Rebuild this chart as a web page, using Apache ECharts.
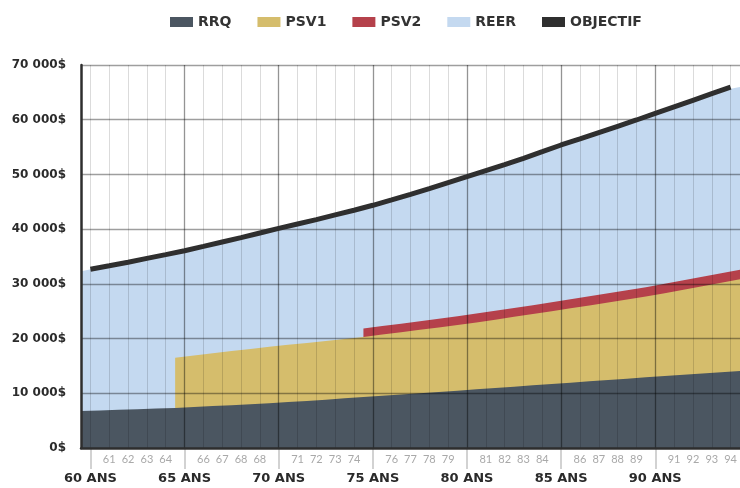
<!DOCTYPE html>
<html>
<head>
<meta charset="utf-8">
<script src="https://cdn.jsdelivr.net/npm/echarts@6/dist/echarts.min.js"></script>
<style>
html,body{margin:0;padding:0;background:#fff;}
#chart{width:740px;height:488px;}
</style>
</head>
<body>
<div id="chart"></div>
<script>
// ---- Data ----
const ages = [60,61,62,63,64,65,66,67,68,69,70,71,72,73,74,75,76,77,78,79,80,81,82,83,84,85,86,87,88,89,90,91,92,93,94];
const minorLabels = ['','61','62','63','64','','66','67','68','68','','71','72','73','74','','76','77','78','79','','81','82','83','84','','86','87','88','89','','91','92','93','94'];
const majorLabels = ['60 ANS','','','','','65 ANS','','','','','70 ANS','','','','','75 ANS','','','','','80 ANS','','','','','85 ANS','','','','','90 ANS','','','',''];
const yLabels = ['0$','10 000$','20 000$','30 000$','40 000$','50 000$','60 000$','70 000$'];
const yTicks = [10000,20000,30000,40000,50000,60000,70000];

// area points sit on the half-year boundaries
const bounds = [59.5,60.5,61.5,62.5,63.5,64.5,65.5,66.5,67.5,68.5,69.5,70.5,71.5,72.5,73.5,74.5,75.5,76.5,77.5,78.5,79.5,80.5,81.5,82.5,83.5,84.5,85.5,86.5,87.5,88.5,89.5,90.5,91.5,92.5,93.5,94.5];
const rrq = [6760,6860,6970,7080,7200,7330,7500,7660,7830,8010,8200,8400,8610,8830,9070,9320,9550,9780,10010,10240,10480,10720,10960,11210,11450,11700,11940,12180,12420,12670,12910,13150,13380,13610,13840,14070];
const psv1 = [null,null,null,null,null,9170,9400,9640,9880,10100,10320,10460,10590,10720,10850,10980,11180,11380,11580,11780,11980,12240,12500,12760,13020,13280,13580,13880,14180,14480,14780,15150,15540,15940,16340,16760];
const psv2 = [null,null,null,null,null,null,null,null,null,null,null,null,null,null,null,1550,1560,1570,1580,1590,1600,1610,1620,1630,1640,1650,1660,1670,1680,1690,1700,1710,1720,1730,1740,1750];
// top of the REER band (total income)
const reerTop = [32300,32980,33620,34300,35000,35700,36450,37250,38050,38870,39720,40550,41350,42170,43020,43900,44850,45850,46870,47950,49040,50140,51250,52370,53550,54780,55940,57070,58220,59370,60550,61750,62950,64150,65350,66000];
const objectif = [32660,33300,33950,34650,35350,36060,36850,37650,38450,39300,40150,40950,41750,42600,43450,44360,45350,46350,47400,48500,49590,50700,51800,52950,54150,55380,56500,57650,58800,59950,61150,62350,63550,64750,65950];

// ---- Build stacked tops ----
const rrqTop = bounds.map((b,i)=>[b, rrq[i]]);
const psv1Top = bounds.map((b,i)=> psv1[i]==null ? null : [b, rrq[i]+psv1[i]]).filter(d=>d);
const psv2Top = bounds.map((b,i)=> psv2[i]==null ? null : [b, rrq[i]+psv1[i]+psv2[i]]).filter(d=>d);
const reerData = bounds.map((b,i)=>[b, reerTop[i]]);
const objData = ages.map((a,i)=>[a, objectif[i]]);

const C = {rrq:'#4b5661', psv1:'#d5bd6c', psv2:'#b5414b', reer:'#c4d9f0', obj:'#2f2f2f'};
const BOLD = '"DejaVu Sans", sans-serif';

const gridLines = [];
ages.forEach(a => {
  const major = (a % 5 === 0) && a !== 60;
  gridLines.push({xAxis: a, lineStyle: {color: major ? 'rgba(0,0,0,0.42)' : 'rgba(0,0,0,0.14)', width: major ? 1.3 : 1, type: 'solid'}});
});
yTicks.forEach(v => {
  gridLines.push({yAxis: v, lineStyle: {color: 'rgba(0,0,0,0.38)', width: 1.3, type: 'solid'}});
});

function areaSeries(name, data, color, extra) {
  return Object.assign({
    name: name, type: 'line', data: data, color: color,
    itemStyle: {color: color},
    symbol: 'none', showSymbol: false,
    lineStyle: {width: 0, opacity: 0},
    areaStyle: {color: color, opacity: 1},
    emphasis: {disabled: true},
    animation: false, silent: true
  }, extra || {});
}

const chart = echarts.init(document.getElementById('chart'), null, {renderer: 'canvas'});
chart.setOption({
  backgroundColor: '#ffffff',
  animation: false,
  legend: {
    data: ['RRQ','PSV1','PSV2','REER','OBJECTIF'],
    left: 170, top: 15, padding: 0,
    icon: 'rect', itemWidth: 23, itemHeight: 10, itemGap: 26,
    textStyle: {fontFamily: BOLD, fontWeight: 'bold', fontSize: 14, color: '#333'},
    selectedMode: false
  },
  grid: {left: 81, right: 0, top: 65, bottom: 40, containLabel: false},
  xAxis: [
    {
      type: 'value', min: 59.5, max: 94.5, z: 10,
      axisLine: {show: true, lineStyle: {color: '#2e2e2e', width: 2.5}},
      axisTick: {show: false}, axisLabel: {show: false}, splitLine: {show: false}
    },
    {
      type: 'category', data: ages.map(String), boundaryGap: true, position: 'bottom',
      axisLine: {show: false},
      axisTick: {show: true, alignWithLabel: true, length: 21,
        interval: function (idx) { return idx % 5 === 0; },
        lineStyle: {color: '#c4c4c4', width: 1.5}},
      axisLabel: {show: true, interval: 0, margin: 6,
        formatter: function (v, idx) { return minorLabels[idx]; },
        fontFamily: 'Lato, sans-serif', fontSize: 11, color: '#a9a9a9'},
      splitLine: {show: false}
    },
    {
      type: 'category', data: ages.map(String), boundaryGap: true, position: 'bottom',
      axisLine: {show: false}, axisTick: {show: false},
      axisLabel: {show: true, interval: 0, margin: 24,
        formatter: function (v, idx) { return majorLabels[idx]; },
        fontFamily: BOLD, fontWeight: 'bold', fontSize: 13, color: '#2a2a2a'},
      splitLine: {show: false}
    }
  ],
  yAxis: {
    type: 'value', min: 0, max: 70000, interval: 10000, z: 10,
    axisLine: {show: true, lineStyle: {color: '#2e2e2e', width: 2.5}},
    axisTick: {show: false},
    splitLine: {show: false},
    axisLabel: {margin: 15, formatter: function (v, idx) { return yLabels[idx]; },
      fontFamily: BOLD, fontWeight: 'bold', fontSize: 12, color: '#2b2b2b'}
  },
  series: [
    areaSeries('REER', reerData, C.reer, {
      markLine: {silent: true, symbol: ['none','none'], label: {show: false}, animation: false,
        emphasis: {disabled: true}, data: gridLines}
    }),
    areaSeries('PSV2', psv2Top, C.psv2),
    areaSeries('PSV1', psv1Top, C.psv1),
    areaSeries('RRQ', rrqTop, C.rrq),
    {
      name: 'OBJECTIF', type: 'line', data: objData, color: C.obj,
      itemStyle: {color: C.obj},
      symbol: 'none', showSymbol: false, z: 6,
      lineStyle: {color: C.obj, width: 5},
      emphasis: {disabled: true}, animation: false, silent: true
    }
  ]
});
</script>
</body>
</html>
